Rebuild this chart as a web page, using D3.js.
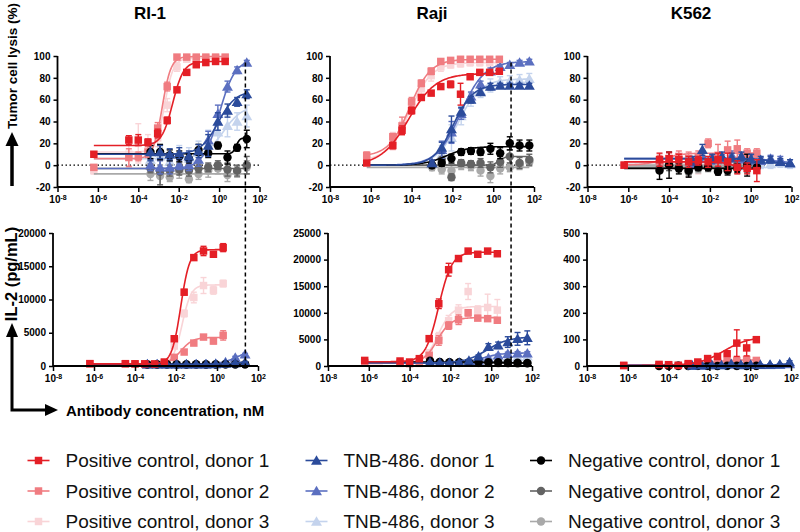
<!DOCTYPE html>
<html><head><meta charset="utf-8">
<script src="https://cdn.jsdelivr.net/npm/d3@7"></script>
<style>body{margin:0;background:#fff}</style>
</head><body>
<svg id="chart" width="800" height="532"></svg>
<script>
// ---------------- DATA ----------------
const cellLines = ["RI-1", "Raji", "K562"];
const seriesLabels = [
  "Positive control, donor 1", "Positive control, donor 2", "Positive control, donor 3",
  "TNB-486. donor 1", "TNB-486, donor 2", "TNB-486, donor 3",
  "Negative control, donor 1", "Negative control, donor 2", "Negative control, donor 3"
];
const xTicks = [1e-8, 1e-6, 1e-4, 1e-2, 1, 100];
const lysisTicks = [-20, 0, 20, 40, 60, 80, 100];
const il2TicksRI1 = [0, 5000, 10000, 15000, 20000];
const il2TicksRaji = [0, 5000, 10000, 15000, 20000, 25000];
const il2TicksK562 = [0, 100, 200, 300, 400, 500];
const dashedConc = [20, 7.5]; // nM, RI-1 and Raji reference lines

// concentrations (nM)
const posConc = [6.3e-7, 3.4e-5, 1.0e-4, 3.0e-4, 9.1e-4, 2.7e-3, 8.2e-3, 2.5e-2, 7.4e-2, 0.22, 0.67, 2.0];
const posConcRajiLysis = [6.3e-7, 1.2e-5, 3.4e-5, 1.0e-4, 3.0e-4, 9.1e-4, 2.7e-3, 8.2e-3, 2.5e-2, 7.4e-2, 0.22, 0.67, 2.0];
const tnbConcRI1 = [4.0e-4, 1.2e-3, 3.6e-3, 1.07e-2, 3.2e-2, 9.6e-2, 0.29, 0.87, 2.6, 7.8, 23.4];
const tnbConcRaji = [1.0e-3, 3.0e-3, 9.0e-3, 2.7e-2, 8.1e-2, 0.24, 0.73, 2.2, 6.5, 19.6, 59];
const tnbConcK562 = [1.44e-3, 4.3e-3, 1.3e-2, 3.9e-2, 0.117, 0.35, 1.05, 3.1, 9.4, 28.3, 85];
const negConcK562 = [3.4e-5, 1.0e-4, 3.0e-4, 9.1e-4, 2.7e-3, 8.2e-3, 2.5e-2, 7.4e-2, 0.22, 0.67, 2.0];

// Tumor cell lysis (%) — order: pos d1,d2,d3, TNB d1,d2,d3, neg d1,d2,d3
const lysisRI1 = [
  [10, 23, 23, 21, 29, 41, 69, 85, 92, 94, 95, 95],
  [-2, 7, 8, 12, 34, 72, 99, 99, 99, 99, 99, 99],
  [-5, 10, 20, 18, 25, 55, 90, 97, 98, 98, 98, 98],
  [12, 12, 10, 11, 8, 13, 18, 40, 50, 58, 65],
  [0, -2, -2, 0, 0, 5, 23, 47, 72, 87, 94],
  [5, 8, 3, 10, 6, 12, 22, 30, 36, 40, 45],
  [12, 12, 9, 8, 6, 14, 11, 18, 7, 16, 24],
  [-3, -6, -5, -4, -5, -3, -2, 0, -4, -5, 0],
  [-8, -10, -11, -6, -13, -8, -5, -3, -9, -6, -2]
];
const lysisRI1Err = [
  [0, 4, 5, 3, 4, 3, 2, 2, 1, 1, 1, 1],
  [2, 8, 4, 5, 5, 4, 1, 1, 1, 1, 1, 1],
  [3, 12, 18, 10, 8, 6, 4, 2, 2, 2, 2, 2],
  [8, 6, 5, 5, 5, 6, 10, 8, 6, 4, 4],
  [5, 6, 6, 4, 5, 6, 8, 8, 5, 3, 2],
  [10, 8, 8, 8, 10, 10, 10, 10, 10, 8, 10],
  [6, 7, 5, 5, 4, 5, 4, 3, 6, 3, 8],
  [4, 12, 5, 5, 5, 4, 4, 4, 6, 5, 8],
  [6, 10, 4, 6, 3, 5, 6, 5, 6, 5, 6]
];
const lysisRI1Fit = [
  [18, 95, -2.3, 1.6], [6, 99.5, -2.82, 2], [12, 98, -2.7, 2],
  [10, 68, -0.05, 1.0], [-3, 97, 0.0, 1.1], [6, 55, 0.2, 0.9],
  [10.5, 25, 0.85, 5], [-3, -3, 0, 1], [-8, -8, 0, 1]
];

const lysisRaji = [
  [2, 18, 32, 50, 62, 66, 72, 74, 65, 81, 85, 85, 86],
  [9, 26, 36, 58, 75, 86, 95, 96, 97, 97, 97, 97, 97],
  [5, 22, 34, 54, 70, 82, 90, 92, 93, 94, 94, 94, 94],
  [2, 16, 33, 49, 60, 67, 72, 73, 73, 73, 73],
  [2, 14, 30, 47, 63, 74, 86, 90, 92, 94, 95],
  [1, 10, 25, 45, 60, 68, 73, 76, 77, 78, 79],
  [0, 2, 6, 12, 13, 12, 15, 11, 20, 18, 18],
  [0, 5, -11, 2, 1, 2, -2, 3, 8, 2, 5],
  [-2, -4, -5, 0, -1, -5, -10, -3, -2, 0, 3]
];
const lysisRajiErr = [
  [2, 3, 4, 3, 2, 2, 2, 3, 10, 1, 1, 1, 2],
  [3, 3, 8, 4, 3, 3, 2, 1, 1, 1, 1, 1, 1],
  [5, 8, 6, 6, 5, 5, 4, 3, 3, 3, 3, 3, 3],
  [2, 5, 12, 4, 3, 3, 3, 2, 2, 2, 2],
  [3, 8, 10, 5, 4, 3, 3, 2, 2, 2, 2],
  [3, 8, 12, 8, 6, 6, 6, 5, 5, 5, 5],
  [2, 3, 4, 3, 3, 3, 5, 5, 6, 5, 5],
  [3, 6, 3, 3, 3, 4, 5, 5, 6, 5, 5],
  [3, 4, 6, 4, 4, 5, 6, 5, 4, 4, 4]
];
const lysisRajiFit = [
  [0, 84, -4.15, 0.65], [8, 97, -4.1, 0.85], [4, 94, -4.1, 0.8],
  [0, 74, -1.95, 0.9], [0, 95, -1.6, 0.75], [0, 79, -1.7, 0.8],
  [0, 17, -2.3, 0.8], [0, 8, 0.3, 3], [-2, -2, 0, 1]
];

const lysisK562 = [
  [0, 5, 6, 5, 3, 4, 3, 5, 3, -2, -3, -5],
  [0, 3, 6, 8, 6, 8, 20, 9, 14, 15, 11, 11],
  [0, 2, 3, 0, -3, -2, 2, 5, 4, 2, 0, 1],
  [4, 14, 6, 8, 7, 8, 6, 5, 5, 3, 2],
  [2, 8, 5, 6, 9, 6, 5, 4, 6, 5, 2],
  [0, 3, 2, 5, 2, 0, 2, 1, 1, 2, 1],
  [-5, 0, -3, -5, -2, -2, -6, -5, -3, 0, -2],
  [-3, 0, -2, -6, -1, -2, -5, -3, 0, -2, -1],
  [2, 3, 0, -4, -3, -2, 0, 1, -1, 0, 1]
];
const lysisK562Err = [
  [1, 6, 6, 5, 5, 4, 5, 6, 8, 6, 5, 10],
  [1, 6, 5, 5, 6, 5, 4, 10, 8, 8, 4, 4],
  [2, 5, 5, 5, 8, 6, 5, 5, 5, 5, 5, 5],
  [4, 5, 4, 4, 4, 4, 4, 3, 3, 3, 3],
  [4, 5, 4, 4, 4, 4, 4, 3, 3, 3, 3],
  [4, 4, 4, 4, 4, 4, 4, 4, 4, 4, 4],
  [8, 12, 5, 6, 3, 3, 3, 4, 4, 10, 5],
  [4, 5, 4, 4, 3, 3, 3, 4, 4, 5, 4],
  [4, 4, 4, 4, 4, 4, 4, 4, 4, 4, 4]
];
const lysisK562Fit = [
  [3, -4, -0.8, 1.5], [0, 11, -4.3, 1], [1, 1, 0, 1],
  [6, 1, 1.0, 1.2], [6, 2, 1.2, 1], [2, 2, 0, 1],
  [-3, -3, 0, 1], [-2, -2, 0, 1], [0, 0, 0, 1]
];

// IL-2 (pg/mL)
const il2RI1 = [
  [350, 350, 330, 320, 300, 600, 4100, 11100, 16300, 17300, 16800, 17800],
  [350, 340, 330, 320, 330, 400, 1300, 2100, 3450, 4350, 3750, 4600],
  [350, 340, 330, 320, 330, 450, 3000, 7900, 10300, 12100, 11400, 12400],
  [250, 250, 250, 250, 250, 250, 250, 300, 350, 450, 550],
  [300, 300, 280, 300, 300, 280, 300, 350, 600, 1250, 1750],
  [300, 300, 300, 300, 300, 300, 300, 300, 350, 400, 450],
  [230, 240, 250, 230, 240, 250, 240, 230, 250, 260, 250],
  [260, 250, 240, 250, 260, 240, 250, 260, 250, 240, 260],
  [240, 250, 260, 250, 240, 250, 260, 250, 240, 250, 240]
];
const il2RI1Err = [
  [100, 80, 80, 80, 80, 150, 200, 400, 300, 700, 300, 600],
  [80, 80, 80, 80, 80, 100, 200, 300, 300, 300, 400, 700],
  [80, 80, 80, 80, 80, 100, 300, 500, 800, 1200, 600, 500],
  [50, 50, 50, 50, 50, 50, 50, 50, 80, 100, 100],
  [50, 50, 50, 50, 50, 50, 50, 80, 150, 200, 150],
  [50, 50, 50, 50, 50, 50, 50, 50, 80, 100, 100],
  [40, 40, 40, 40, 40, 40, 40, 40, 40, 40, 40],
  [40, 40, 40, 40, 40, 40, 40, 40, 40, 40, 40],
  [40, 40, 40, 40, 40, 40, 40, 40, 40, 40, 40]
];
const il2RI1Fit = [
  [320, 17500, -1.77, 2], [320, 4300, -1.75, 1.5], [320, 12200, -1.7, 2],
  [250, 700, 1.0, 1], [280, 2500, 1.0, 1.1], [300, 500, 1.0, 1],
  [245, 245, 0, 1], [250, 250, 0, 1], [250, 250, 0, 1]
];

const il2Raji = [
  [1050, 940, 750, 1380, 5140, 11700, 18100, 20200, 21600, 21000, 21600, 21100],
  [600, 500, 450, 500, 2000, 4800, 7600, 8700, 10000, 9000, 8900, 8600],
  [700, 600, 500, 600, 2500, 5500, 8500, 10500, 14000, 10500, 11000, 10500],
  [700, 600, 600, 650, 1000, 1800, 3600, 3900, 4500, 5100, 5300],
  [600, 600, 600, 600, 700, 1000, 1500, 2000, 2300, 2400, 2400],
  [600, 600, 600, 600, 650, 800, 1100, 1400, 1600, 1700, 1800],
  [1000, 750, 700, 700, 700, 700, 700, 700, 650, 600, 560],
  [700, 650, 650, 600, 650, 600, 600, 600, 550, 500, 500],
  [600, 600, 550, 550, 600, 550, 550, 500, 500, 450, 450]
];
const il2RajiErr = [
  [150, 150, 150, 300, 500, 900, 1200, 400, 400, 400, 300, 400],
  [100, 100, 100, 150, 300, 900, 700, 900, 600, 300, 300, 300],
  [100, 100, 100, 200, 400, 800, 1000, 1000, 1500, 800, 2500, 2000],
  [100, 100, 100, 100, 200, 300, 600, 600, 1000, 1200, 1300],
  [100, 100, 100, 100, 100, 150, 200, 250, 300, 300, 300],
  [100, 100, 100, 100, 100, 100, 150, 200, 200, 200, 200],
  [100, 80, 80, 80, 80, 80, 80, 80, 80, 80, 80],
  [80, 80, 80, 80, 80, 80, 80, 80, 80, 80, 80],
  [80, 80, 80, 80, 80, 80, 80, 80, 80, 80, 80]
];
const il2RajiFit = [
  [800, 21400, -2.58, 1.35], [500, 9100, -2.65, 1.3], [600, 11200, -2.6, 1.3],
  [550, 5500, -0.2, 0.8], [550, 2450, -0.4, 1.0], [550, 1800, -0.3, 1.0],
  [750, 550, 0.5, 0.8], [650, 500, 0.5, 1], [600, 450, 0.5, 1]
];

const il2K562 = [
  [2, 6, 5, 2, 9, 15, 28, 36, 46, 86, 68, 99],
  [2, 4, 4, 3, 5, 8, 10, 14, 18, 21, 24, 21],
  [2, 3, 3, 2, 4, 5, 7, 9, 11, 12, 13, 12],
  [2, 3, 5, 3, 8, 5, 5, 4, 5, 6, 15],
  [2, 2, 3, 4, 5, 3, 4, 5, 4, 5, 8],
  [2, 2, 2, 3, 3, 3, 3, 3, 3, 4, 5],
  [0, 1, 1, 0, 1, 1, 0, 1, 1, 0, 1],
  [1, 1, 0, 1, 1, 0, 1, 1, 0, 1, 1],
  [1, 0, 1, 1, 0, 1, 1, 0, 1, 1, 0]
];
const il2K562Err = [
  [2, 3, 3, 2, 3, 4, 5, 5, 6, 50, 30, 4],
  [2, 3, 3, 3, 3, 3, 4, 4, 5, 6, 8, 6],
  [2, 2, 2, 2, 2, 2, 3, 3, 3, 3, 3, 3],
  [2, 2, 2, 2, 3, 2, 2, 2, 2, 3, 5],
  [2, 2, 2, 2, 2, 2, 2, 2, 2, 2, 3],
  [2, 2, 2, 2, 2, 2, 2, 2, 2, 2, 2],
  [1, 1, 1, 1, 1, 1, 1, 1, 1, 1, 1],
  [1, 1, 1, 1, 1, 1, 1, 1, 1, 1, 1],
  [1, 1, 1, 1, 1, 1, 1, 1, 1, 1, 1]
];
const il2K562Fit = [
  [2, 110, -1.3, 0.7], [2, 23, -2.0, 0.9], [2, 13, -2.0, 0.9],
  [3, 20, 2.0, 1.5], [3, 4, 0, 1], [2, 3, 0, 1],
  [0.5, 0.5, 0, 1], [0.5, 0.5, 0, 1], [0.5, 0.5, 0, 1]
];

// ---------------- STYLE / LAYOUT ----------------
const colors = ["#e41f26", "#f07c81", "#f9d4d7", "#2b4b9b", "#5b6fc0", "#c4d3ed", "#000000", "#636363", "#a9a9a9"];
const shapes = [d3.symbolSquare, d3.symbolSquare, d3.symbolSquare, d3.symbolTriangle, d3.symbolTriangle, d3.symbolTriangle, d3.symbolCircle, d3.symbolCircle, d3.symbolCircle];
const symSize = [56, 56, 56, 52, 52, 52, 56, 56, 56];
const drawOrder = [5, 2, 8, 7, 4, 1, 6, 3, 0];
const tickFont = "'Liberation Sans', Arial, sans-serif";

const svg = d3.select("#chart");

const panels = [
  {x: [57.5, 259.5], y: [187, 56], dom: [-20, 100], ticks: lysisTicks, data: lysisRI1, err: lysisRI1Err, fit: lysisRI1Fit,
   xs: [posConc, posConc, posConc, tnbConcRI1, tnbConcRI1, tnbConcRI1, tnbConcRI1, tnbConcRI1, tnbConcRI1], zeroLine: true},
  {x: [330, 534], y: [187, 56], dom: [-20, 100], ticks: lysisTicks, data: lysisRaji, err: lysisRajiErr, fit: lysisRajiFit,
   xs: [posConcRajiLysis, posConcRajiLysis, posConcRajiLysis, tnbConcRaji, tnbConcRaji, tnbConcRaji, tnbConcRaji, tnbConcRaji, tnbConcRaji], zeroLine: true},
  {x: [587.5, 791.5], y: [187, 56], dom: [-20, 100], ticks: lysisTicks, data: lysisK562, err: lysisK562Err, fit: lysisK562Fit,
   xs: [posConc, posConc, posConc, tnbConcK562, tnbConcK562, tnbConcK562, negConcK562, negConcK562, negConcK562], zeroLine: true},
  {x: [53, 258], y: [366, 233], dom: [0, 20000], ticks: il2TicksRI1, data: il2RI1, err: il2RI1Err, fit: il2RI1Fit,
   xs: [posConc, posConc, posConc, tnbConcRI1, tnbConcRI1, tnbConcRI1, tnbConcRI1, tnbConcRI1, tnbConcRI1]},
  {x: [328, 532], y: [366, 233], dom: [0, 25000], ticks: il2TicksRaji, data: il2Raji, err: il2RajiErr, fit: il2RajiFit,
   xs: [posConc, posConc, posConc, tnbConcRaji, tnbConcRaji, tnbConcRaji, tnbConcRaji, tnbConcRaji, tnbConcRaji]},
  {x: [587, 791], y: [366, 233], dom: [0, 500], ticks: il2TicksK562, data: il2K562, err: il2K562Err, fit: il2K562Fit,
   xs: [posConc, posConc, posConc, tnbConcK562, tnbConcK562, tnbConcK562, negConcK562, negConcK562, negConcK562]}
];

function fourPL(p, c) {
  const [b, t, ec, h] = p;
  return b + (t - b) / (1 + Math.pow(10, (ec - Math.log10(c)) * h));
}

panels.forEach((P, pi) => {
  const xs = d3.scaleLog().domain([1e-8, 100]).range(P.x);
  const ys = d3.scaleLinear().domain(P.dom).range(P.y);
  P.xs_ = xs; P.ys_ = ys;
  const g = svg.append("g");

  if (P.zeroLine) {
    g.append("line").attr("x1", P.x[0]).attr("x2", P.x[1]).attr("y1", ys(0)).attr("y2", ys(0))
      .attr("stroke", "#000").attr("stroke-width", 1.3).attr("stroke-dasharray", "1.5,2.5");
  }

  drawOrder.forEach(si => {
    const xv = P.xs[si], yv = P.data[si], ev = P.err[si];
    const col = colors[si];
    const lo = Math.log10(6.3e-7), hi = Math.log10(xv[xv.length - 1]);
    const cx = d3.range(0, 121).map(i => Math.pow(10, lo + (hi - lo) * i / 120));
    const line = d3.line().x(c => xs(c)).y(c => ys(fourPL(P.fit[si], c)));
    g.append("path").attr("d", line(cx)).attr("fill", "none").attr("stroke", col).attr("stroke-width", 1.6);
    const sg = g.append("g");
    yv.forEach((v, k) => {
      const px = xs(xv[k]), e = ev[k];
      if (e > 0) {
        const yt = ys(Math.min(v + e, P.dom[1])), yb = ys(Math.max(v - e, P.dom[0]));
        sg.append("line").attr("x1", px).attr("x2", px).attr("y1", yt).attr("y2", yb).attr("stroke", col).attr("stroke-width", 1.4);
        sg.append("line").attr("x1", px - 3).attr("x2", px + 3).attr("y1", yt).attr("y2", yt).attr("stroke", col).attr("stroke-width", 1.4);
        sg.append("line").attr("x1", px - 3).attr("x2", px + 3).attr("y1", yb).attr("y2", yb).attr("stroke", col).attr("stroke-width", 1.4);
      }
      sg.append("path").attr("d", d3.symbol().type(shapes[si]).size(symSize[si])())
        .attr("transform", `translate(${px},${ys(v) + (si >= 3 && si <= 5 ? 1 : 0)})`).attr("fill", col);
    });
  });

  const yAxis = d3.axisLeft(ys).tickValues(P.ticks).tickSize(4).tickPadding(3).tickFormat(d => String(d));
  const ya = svg.append("g").attr("transform", `translate(${P.x[0]},0)`).call(yAxis);
  const xAxis = d3.axisBottom(xs).tickValues(xTicks).tickSize(5).tickPadding(4).tickFormat(() => "10");
  const xa = svg.append("g").attr("transform", `translate(0,${P.y[0]})`).call(xAxis);
  [ya, xa].forEach(a => {
    a.select(".domain").attr("stroke-width", 1.8);
    a.selectAll(".tick line").attr("stroke-width", 1.5);
    a.selectAll("text").attr("font-family", tickFont).attr("font-weight", "bold").attr("font-size", 10).attr("fill", "#000");
  });
  xa.selectAll(".tick text").each(function(d) {
    d3.select(this).append("tspan").attr("dy", "-0.45em").attr("font-size", 7).text(Math.round(Math.log10(d)));
  });
  ya.select(".domain").attr("d", `M0,${P.y[0]}V${P.y[1]}`);
  xa.select(".domain").attr("d", `M${P.x[0]},0H${P.x[1]}`);
});

// dashed reference lines spanning top and bottom panels
dashedConc.forEach((c, i) => {
  const top = panels[i], bot = panels[i + 3];
  const x = top.xs_(c);
  svg.append("line").attr("x1", x).attr("x2", x).attr("y1", top.ys_(94)).attr("y2", bot.ys_(0))
    .attr("stroke", "#000").attr("stroke-width", 1.5).attr("stroke-dasharray", "4,3");
});

// titles
const titleX = [150, 432, 691];
cellLines.forEach((t, i) => {
  svg.append("text").attr("x", titleX[i]).attr("y", 19).attr("text-anchor", "middle")
    .attr("font-family", tickFont).attr("font-weight", "bold").attr("font-size", 17).text(t);
});

// y labels and arrows
svg.append("text").attr("transform", "translate(17,66) rotate(-90)").attr("text-anchor", "middle")
  .attr("font-family", tickFont).attr("font-weight", "bold").attr("font-size", 13.5).text("Tumor cell lysis (%)");
svg.append("path").attr("d", "M12,186V144").attr("stroke", "#000").attr("stroke-width", 3.5);
svg.append("path").attr("d", "M5.5,146L12,132L18.5,146Z").attr("fill", "#000");

svg.append("text").attr("transform", "translate(17,274) rotate(-90)").attr("text-anchor", "middle")
  .attr("font-family", tickFont).attr("font-weight", "bold").attr("font-size", 16.5).text("IL-2 (pg/mL)");
svg.append("path").attr("d", "M12,335V410H47").attr("fill", "none").attr("stroke", "#000").attr("stroke-width", 3);
svg.append("path").attr("d", "M6,337L12,323L18,337Z").attr("fill", "#000");
svg.append("path").attr("d", "M45,404L58,410L45,416Z").attr("fill", "#000");
svg.append("text").attr("x", 66).attr("y", 416).attr("font-family", tickFont).attr("font-weight", "bold")
  .attr("font-size", 15).text("Antibody concentration, nM");

// legend
const legColX = [38.5, 316.5, 541];
const legRowY = [460.5, 491, 521.5];
seriesLabels.forEach((lab, i) => {
  const cx = legColX[Math.floor(i / 3)], cy = legRowY[i % 3];
  const lg = svg.append("g");
  lg.append("line").attr("x1", cx - 11).attr("x2", cx + 11).attr("y1", cy).attr("y2", cy).attr("stroke", colors[i]).attr("stroke-width", 1.6);
  lg.append("path").attr("d", d3.symbol().type(shapes[i]).size(symSize[i])()).attr("transform", `translate(${cx},${cy + (i >= 3 && i <= 5 ? 1 : 0)})`).attr("fill", colors[i]);
  lg.append("text").attr("x", cx + 27).attr("y", cy).attr("dy", "0.36em").attr("font-family", tickFont)
    .attr("font-size", 19).attr("fill", "#111").text(lab);
});
</script>
</body></html>
